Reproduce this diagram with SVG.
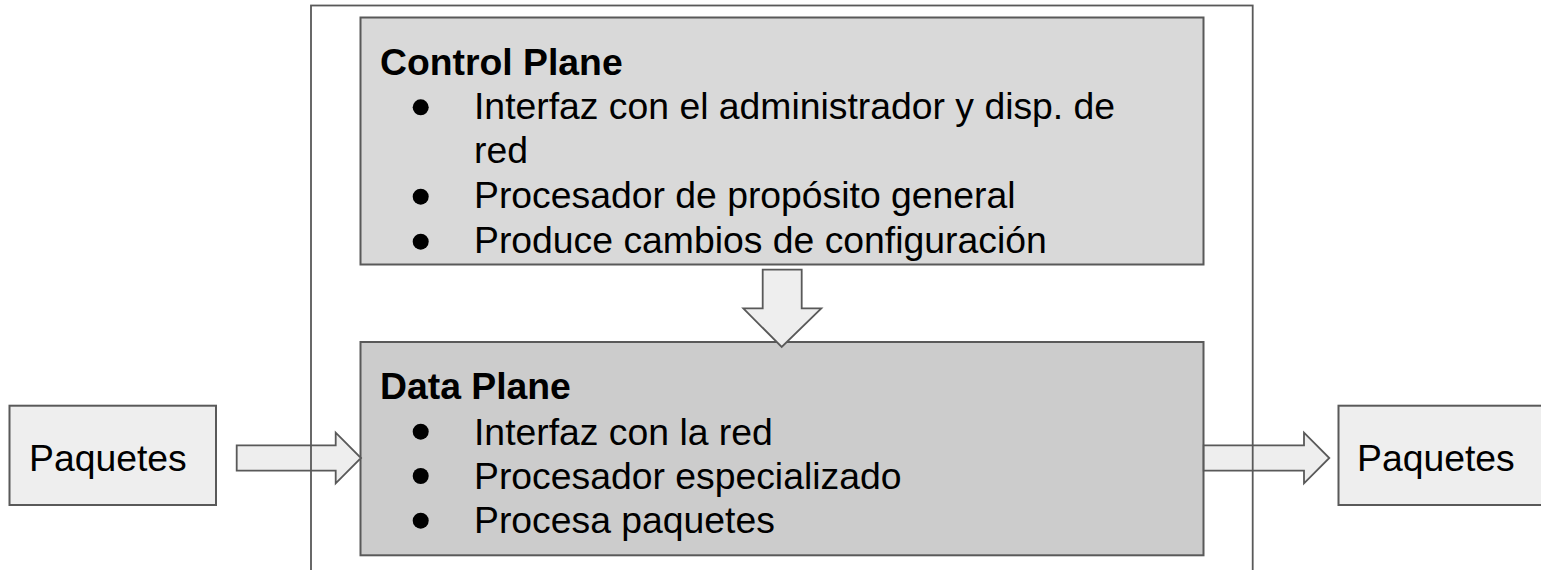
<svg xmlns="http://www.w3.org/2000/svg" width="1541" height="570" viewBox="0 0 1541 570">
<style>
.box{stroke:#595959;stroke-width:2}
.arrow{fill:#eeeeee;stroke:#595959;stroke-width:1.8;stroke-linejoin:miter}
.t{font-family:"Liberation Sans",Arial,sans-serif;font-size:37.33px;fill:#000}
.b{font-weight:bold}
.dot{fill:#000}
</style>
<rect width="1541" height="570" fill="#ffffff"/>
<g id="control-plane">
<rect class="box" x="360.5" y="17.5" width="843" height="247" fill="#d9d9d9"/>
<text class="t b" x="380" y="75">Control Plane</text>
<circle class="dot" cx="420.7" cy="107.3" r="8"/>
<text class="t" x="474" y="118.7">Interfaz con el administrador y disp. de</text>
<text class="t" x="474" y="163.3">red</text>
<circle class="dot" cx="420.7" cy="196.7" r="8"/>
<text class="t" x="474" y="208.3">Procesador de propósito general</text>
<circle class="dot" cx="420.7" cy="241.7" r="8"/>
<text class="t" x="474" y="252.7">Produce cambios de configuración</text>
</g>
<g id="data-plane">
<rect class="box" x="360.5" y="342" width="843" height="213.3" fill="#cccccc"/>
<text class="t b" x="380" y="399.3">Data Plane</text>
<circle class="dot" cx="420.7" cy="431.7" r="8"/>
<text class="t" x="474" y="445">Interfaz con la red</text>
<circle class="dot" cx="420.7" cy="476" r="8"/>
<text class="t" x="474" y="489.3">Procesador especializado</text>
<circle class="dot" cx="420.7" cy="520.7" r="8"/>
<text class="t" x="474" y="533.3">Procesa paquetes</text>
</g>
<g id="paquetes-in">
<rect class="box" x="9.5" y="405.7" width="206.5" height="99.3" fill="#eeeeee"/>
<text class="t" x="29" y="471">Paquetes</text>
</g>
<g id="paquetes-out">
<rect class="box" x="1338.5" y="405.7" width="210" height="99.3" fill="#eeeeee"/>
<text class="t" x="1357" y="471">Paquetes</text>
</g>
<g id="connectors">
<polygon class="arrow" points="762.7,269.7 801.7,269.7 801.7,308.3 821.3,308.3 781.7,347 743.3,308.3 762.7,308.3"/>
<polygon class="arrow" points="236.7,445.3 335.7,445.3 335.7,432.7 361,458 335.7,483.3 335.7,470.7 236.7,470.7"/>
<polygon class="arrow" points="1203.7,445.3 1304,445.3 1304,432.7 1329.3,458 1304,483.3 1304,470.7 1203.7,470.7"/>
</g>
<g id="device">
<rect x="311" y="5.5" width="941.7" height="600" fill="none" stroke="#595959" stroke-width="1.8"/>
</g>
</svg>
